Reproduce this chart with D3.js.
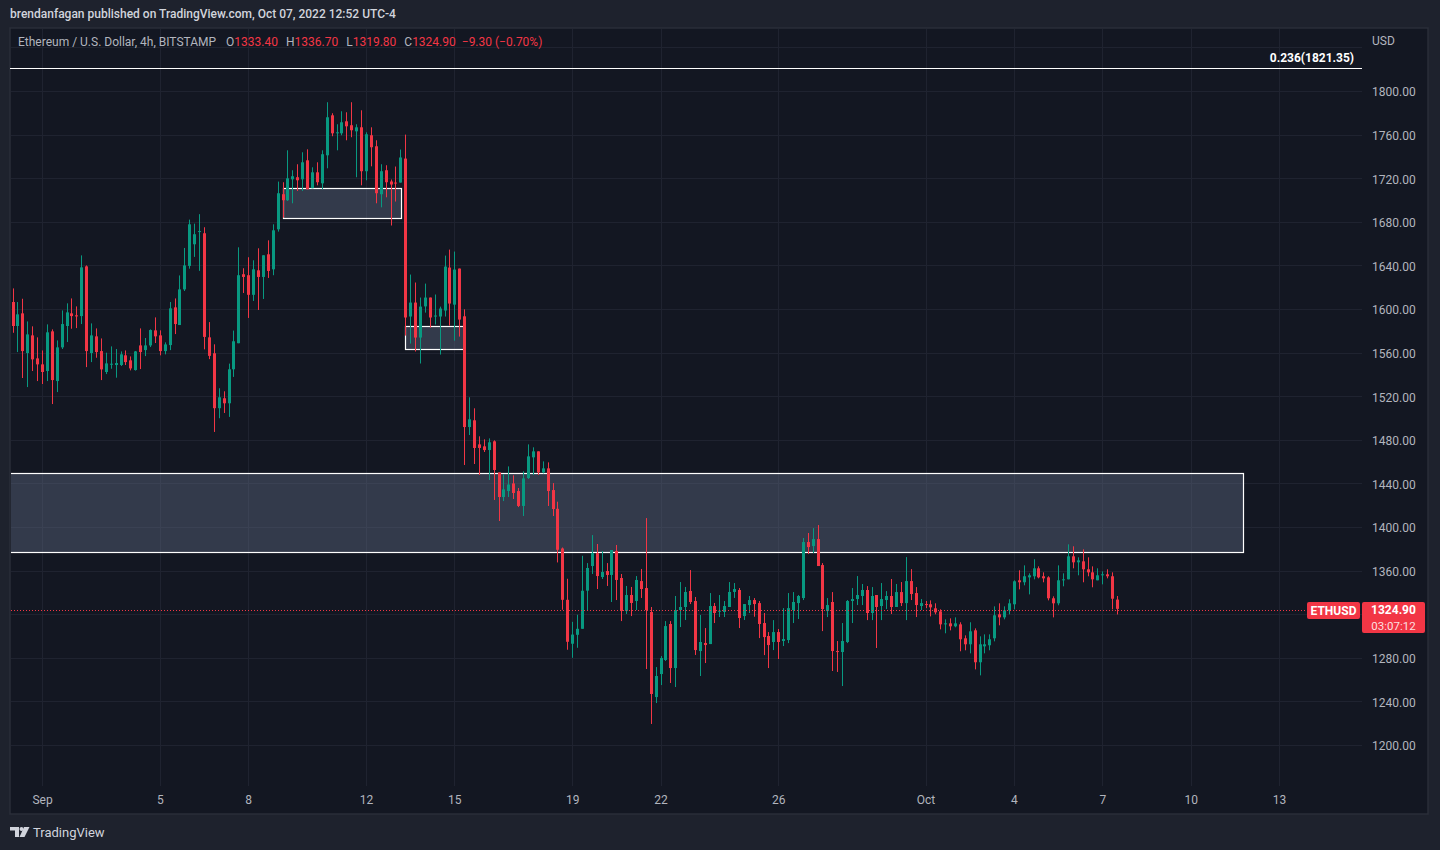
<!DOCTYPE html>
<html>
<head>
<meta charset="utf-8">
<script src="https://cdn.jsdelivr.net/npm/d3@7"></script>
<style>
  html, body { margin: 0; padding: 0; background: #1e222d; }
  svg { display: block; font-family: Roboto, "Noto Sans", sans-serif; }
</style>
</head>
<body>
<svg width="1440" height="850"></svg>
<script>
// ETH/USD 4h candles, Aug 31 00:00 -> Oct 7 12:00
var opens = [1606.4,1584.4,1596,1559.6,1575.8,1554.7,1549.2,1543.1,1579.5,1533.9,
  1564.8,1584.4,1596,1594.2,1593.5,1639.1,1559.6,1574.9,1561.4,1542.2,
  1548.9,1548.6,1548.6,1557.5,1552.9,1544,1566.6,1562.3,1566.6,1580.4,
  1575.8,1561.4,1566.9,1601.5,1585.3,1618,1639.5,1659.4,1671,1669.5,
  1574,1559.4,1509,1518.1,1513.5,1544.7,1568.6,1631.9,1631,1613,
  1635.5,1629.4,1650.2,1636.4,1673.1,1705.3,1699.8,1719,1720.9,1719,
  1736.4,1710.8,1725.4,1715.3,1741,1777.7,1761.2,1761.2,1772.2,1768.6,
  1763,1766.7,1726.4,1759.4,1749.3,1705.3,1727.3,1717,1716,1716,
  1738,1593.1,1605.9,1573.8,1602.4,1610.5,1593.1,1593.1,1598.6,1638,
  1604,1637.1,1593.3,1491.7,1497.9,1475.8,1474,1470.6,1478.6,1450.1,
  1427.5,1433,1440,1433,1419.3,1444.9,1463.9,1469.4,1450.1,1453.8,
  1433.9,1416.7,1380.3,1333.2,1292.9,1301.1,1306.6,1341.6,1364.2,1376.1,
  1354.1,1359.6,1356,1378,1353.2,1322.9,1337.6,1332.1,1350.4,1344,
  1322,1244,1265.1,1278,1311,1270.6,1323.8,1326.6,1341.3,1332.1,
  1286.2,1293.6,1292.6,1327.5,1322.3,1322,1326.6,1340.4,1342.2,1318.3,
  1328.4,1333,1330.2,1311.9,1300,1294.5,1303.6,1295.4,1296.3,1323.8,
  1330.2,1334.8,1386.2,1382.5,1388.9,1365.1,1322.9,1331.2,1286.2,1285.3,
  1294.5,1332.1,1333.9,1336.7,1342.2,1321.1,1337.6,1327.5,1333,1336.7,
  1326.6,1340.3,1330.2,1350.4,1339.4,1327.5,1329.3,1329.1,1325.4,1322.6,
  1310.7,1311.6,1308.9,1310.7,1297.9,1292.4,1305.2,1275.9,1290.5,1291.5,
  1297.9,1319.9,1317.1,1323.6,1329.1,1351.1,1349.3,1353.8,1354.8,1362.1,
  1354.8,1353.8,1334.6,1330,1351.1,1352,1373.1,1367.6,1368.5,1361.2,
  1358.4,1351.1,1355.7,1356.6,1354.8,1333.4];
var highs = [1618.9,1606.4,1609.4,1588.6,1584.1,1574,1562,1585.9,1581.3,1571.2,
  1598.7,1605.2,1609.7,1602.4,1649.2,1640,1586.8,1582.2,1573,1559.9,
  1565.7,1563.3,1561.1,1562,1556.5,1561.5,1582.2,1573.4,1581.3,1592.3,
  1580.4,1569.4,1606.4,1609.7,1630.8,1656,1682,1678.3,1687,1675,
  1588,1567.6,1527.3,1524.5,1549.9,1580.2,1656.6,1637.4,1647.5,1644.7,
  1655.7,1649.3,1663,1677.7,1716.9,1716.3,1745.6,1727.3,1732.8,1743.8,
  1746.5,1730,1734.6,1745.6,1789.7,1779.6,1769.5,1781.4,1780.5,1789.7,
  1769.5,1782.3,1762.1,1766.7,1754.8,1732.8,1731.9,1718.8,1730.7,1746.3,
  1760,1631.6,1624.3,1610.5,1623.3,1610.5,1613.3,1602.2,1649,1654.5,
  1652.7,1637.1,1599.7,1519,1508.9,1483.2,1480.4,1481.3,1479.5,1450.1,
  1448.3,1455.6,1447.4,1435.8,1451.1,1475.8,1473.1,1469.4,1460.2,1459.3,
  1440.3,1423.2,1381.2,1352.5,1313,1319.5,1373.6,1366.9,1392.6,1384.4,
  1378,1366.9,1378.9,1383.5,1356.9,1345.9,1345,1355,1361.5,1408.2,
  1326.6,1271.5,1281.6,1313.7,1313.7,1336.7,1349.5,1345,1360.5,1335.8,
  1319.3,1307.3,1339.4,1330.3,1337.6,1332.1,1349.5,1348.6,1344,1329.3,
  1336.7,1334.8,1332.1,1321.1,1303.6,1314.6,1306.4,1325.6,1339.4,1340.3,
  1337.6,1389.9,1394.5,1399,1401.8,1366.9,1334.8,1340.3,1295.4,1311.9,
  1333,1344,1355,1347.7,1345.8,1344.9,1337.6,1348.6,1341.2,1352.3,
  1347.7,1349.5,1372.4,1361.4,1344.9,1333.9,1332.1,1332.7,1330,1324.5,
  1315.3,1316.2,1317.1,1312.6,1300.6,1312.6,1307,1299.7,1301.5,1301.5,
  1327.2,1330,1327.2,1333.7,1351.1,1360.3,1364.8,1357.5,1370.4,1363.9,
  1358.4,1354.8,1336.4,1364.8,1357.5,1384.1,1382.3,1372.2,1379.5,1372.2,
  1363.9,1362.1,1359.3,1361.2,1358.4,1336.7];
var lows = [1578.2,1560.5,1536.7,1528.4,1543.1,1533.9,1531.2,1533.9,1512.8,1523.8,
  1563.3,1569.7,1581.9,1582.5,1586.2,1546.7,1551.3,1555.3,1534.8,1540.3,
  1545.2,1537,1547.7,1548.6,1543.7,1543.5,1544.9,1556.8,1565.1,1568.8,
  1557.5,1558.4,1562.3,1577,1585.3,1616.5,1637,1647.8,1635,1563,
  1554,1487.2,1499.8,1504.6,1501,1537.7,1568.6,1614.7,1591.8,1607.4,
  1599.1,1609.2,1628.5,1631,1671,1683.8,1699.1,1697,1708.3,1708.3,
  1709.8,1710.8,1713.5,1709.8,1729.1,1758.5,1745.6,1759.4,1754.8,1757.6,
  1720.9,1713.5,1718.1,1730.9,1697,1693.3,1702.5,1676.6,1698.6,1716,
  1575.6,1568.3,1561,1550,1596.7,1583,1585.8,1558.2,1593.1,1584.8,
  1571,1574.7,1456.9,1484.4,1457.8,1447.7,1468.8,1443.1,1424.8,1405.5,
  1423.8,1427.5,1425.7,1418.3,1410.1,1444,1447.7,1447.7,1449.2,1419.3,
  1410.1,1367.5,1324.1,1287.4,1280,1289.2,1306.6,1323.2,1356.9,1343.1,
  1352.3,1345.9,1331.2,1333,1313.7,1320.2,1318.3,1323.8,1334.9,1269.7,
  1219.3,1238.5,1255,1277.1,1256.9,1253.2,1308.2,1314.7,1329.3,1282.6,
  1263.3,1275.2,1292.6,1311.9,1317.4,1317.4,1326.6,1334.9,1307.3,1314.7,
  1321.1,1317.7,1298.1,1282.5,1270.6,1287.1,1278.9,1290.8,1293.5,1311.9,
  1315.6,1333,1375.2,1376.1,1364.2,1304.5,1317.4,1267.9,1267,1254.1,
  1293.5,1311.9,1328.4,1328.4,1314.6,1314.6,1289,1314.6,1324.7,1320.2,
  1326.6,1327.5,1314.6,1333,1317.4,1323.8,1325.6,1318,1319.9,1306.1,
  1302.5,1305.2,1308,1286,1286.9,1284.1,1269.4,1263.9,1284.1,1286.9,
  1295.1,1309.8,1315.3,1319.9,1324.5,1342.8,1346.5,1338.2,1352,1352.9,
  1349.3,1332.7,1317.1,1328.2,1345.6,1352,1362.1,1355.7,1349.3,1354.8,
  1344.7,1351.1,1347.4,1352.9,1324.5,1319.8];
var closes = [1584.4,1595.1,1561.4,1576.7,1553.8,1549.2,1542.2,1578.6,1534.8,1564.8,
  1586.2,1596.9,1593.5,1593.2,1638.2,1561.4,1575.8,1560.5,1544.6,1550.1,
  1549.8,1550.4,1558.4,1551.3,1545.5,1561.1,1560.5,1566.6,1580.7,1574.9,
  1561.4,1567.5,1600.6,1586.2,1618,1640,1677.7,1668.6,1671.5,1574.4,
  1557,1509,1519,1513.5,1544.7,1570.4,1631,1629.4,1613,1636.4,
  1629.4,1649.3,1634.9,1672.2,1706.2,1699.8,1719.9,1721.8,1718.1,1734.6,
  1709.8,1725.4,1716.3,1742,1775.9,1761.2,1762.1,1771.3,1767.6,1764,
  1766.7,1726.4,1760.3,1748.4,1706.2,1726.4,1716.3,1714.2,1715.4,1739,
  1592.2,1605.9,1573.8,1602.2,1610.5,1592.2,1594,1600.4,1638.9,1605,
  1636.2,1590.3,1491.7,1498.8,1472.5,1472.5,1470.6,1477.7,1452.3,1427.5,
  1434.5,1439,1431.2,1419.3,1444.6,1464.8,1469.4,1450.1,1453.8,1433,
  1416.5,1379.1,1333.2,1294.7,1301.3,1306.6,1341.5,1362.4,1376.1,1355,
  1358.7,1356,1378.9,1351.4,1322.9,1337.6,1330.3,1351.4,1343.1,1323.8,
  1246.8,1263.3,1279.8,1309.1,1270.6,1323.8,1326.6,1340.4,1331.2,1287.1,
  1294.5,1291.7,1327.5,1321.1,1323.2,1327.5,1340.4,1343.1,1316.5,1329.3,
  1333,1329.3,1311,1299,1291.7,1303.6,1294.5,1297.2,1325.6,1331.2,
  1336.7,1386.2,1381.6,1388.9,1364.2,1324.7,1328.4,1286.2,1285.3,1295.4,
  1332.1,1333.9,1337.6,1342.2,1321.1,1336.7,1326.6,1333.9,1336.7,1326.6,
  1340.3,1330.2,1350.4,1338.5,1328.4,1330.2,1328.4,1326.3,1321.7,1310.7,
  1311.6,1308.9,1311.6,1297,1292.4,1304.3,1275.9,1292.4,1292.4,1297,
  1319,1317.1,1323.6,1330,1350.2,1349.3,1354.8,1355.7,1362.1,1353.8,
  1352.9,1334.6,1330,1351.1,1352,1373.1,1367.6,1369.4,1361.2,1358.4,
  1352,1355.7,1356.6,1354.8,1334.2,1324.9];

var priceTicks = d3.range(1200, 1801, 40);
var dateTicks = [[8,1],[8,5],[8,8],[8,12],[8,15],[8,19],[8,22],[8,26],[9,1],[9,4],[9,7],[9,10],[9,13]];
var monthNames = ["Jan","Feb","Mar","Apr","May","Jun","Jul","Aug","Sep","Oct","Nov","Dec"];

// drawings: rectangles [t0, t1, priceTop, priceBottom]
var zones = [
  [Date.UTC(2022,8,9,4), Date.UTC(2022,8,13,4), 1711.2, 1683.7],
  [Date.UTC(2022,8,13,8), Date.UTC(2022,8,15,8), 1584.6, 1563.2],
  [Date.UTC(2022,7,30,0), Date.UTC(2022,9,11,19), 1449.4, 1377.0]
];
var fibLevel = 1821.35;
var lastPrice = 1324.90;

var GREEN = "#089981", RED = "#f23645";
var svg = d3.select("svg");

var paneL = 10, paneT = 28, paneR = 1428, paneB = 814;
var plotR = 1362, plotB = 786;

var x = d3.scaleUtc().domain([Date.UTC(2022,8,1), Date.UTC(2022,9,13)]).range([42, 1279]);
var y = d3.scaleLinear().domain([1200, 1800]).range([745, 91]);

var start = Date.UTC(2022,7,31);
var candles = opens.map(function(o, i) {
  return { t: new Date(start + i * 4 * 3600e3), o: o, h: highs[i], l: lows[i], c: closes[i] };
});

// background
svg.append("rect").attr("width", 1440).attr("height", 850).attr("fill", "#1e222d");
svg.append("rect").attr("x", paneL).attr("y", paneT)
  .attr("width", paneR - paneL).attr("height", paneB - paneT)
  .attr("fill", "#131722").attr("stroke", "#2a2e39").attr("stroke-width", 1.5);

svg.append("clipPath").attr("id", "plot").append("rect")
  .attr("x", paneL + 1).attr("y", paneT + 1).attr("width", plotR - paneL - 1).attr("height", plotB - paneT - 1);

// grid
var dates = dateTicks.map(function(d) { return new Date(Date.UTC(2022, d[0], d[1])); });
var grid = svg.append("g").attr("stroke", "#1f2330").attr("stroke-width", 1);
grid.selectAll("line.v").data(dates).enter().append("line")
  .attr("x1", function(d) { return Math.round(x(d)) + 0.5; })
  .attr("x2", function(d) { return Math.round(x(d)) + 0.5; })
  .attr("y1", paneT + 1).attr("y2", plotB);
grid.selectAll("line.h").data(priceTicks.concat([1840])).enter().append("line")
  .attr("x1", paneL + 1).attr("x2", plotR)
  .attr("y1", function(d) { return Math.round(y(d)) + 0.5; })
  .attr("y2", function(d) { return Math.round(y(d)) + 0.5; });

var plot = svg.append("g").attr("clip-path", "url(#plot)");

// zones
plot.selectAll("rect.zone").data(zones).enter().append("rect")
  .attr("x", function(d) { return Math.round(x(d[0])) + 0.5; })
  .attr("y", function(d) { return Math.round(y(d[2])) + 0.5; })
  .attr("width", function(d) { return Math.round(x(d[1]) - x(d[0])); })
  .attr("height", function(d) { return Math.round(y(d[3]) - y(d[2])); })
  .attr("fill", "rgba(92,101,126,0.45)")
  .attr("stroke", "#ffffff").attr("stroke-width", 1.2);

// candles
var cg = plot.append("g");
cg.selectAll("rect.wick").data(candles).enter().append("rect")
  .attr("x", function(d) { return Math.round(x(d.t)); })
  .attr("width", 1)
  .attr("y", function(d) { return y(d.h); })
  .attr("height", function(d) { return Math.max(1, y(d.l) - y(d.h)); })
  .attr("fill", function(d) { return d.c >= d.o ? GREEN : RED; });
cg.selectAll("rect.body").data(candles).enter().append("rect")
  .attr("x", function(d) { return Math.round(x(d.t)) - 1; })
  .attr("width", 3)
  .attr("y", function(d) { return y(Math.max(d.o, d.c)); })
  .attr("height", function(d) { return Math.max(1, Math.abs(y(d.o) - y(d.c))); })
  .attr("fill", function(d) { return d.c >= d.o ? GREEN : RED; });

// fib level
var fy = Math.round(y(fibLevel)) + 0.5;
svg.append("line").attr("x1", paneL).attr("x2", plotR).attr("y1", fy).attr("y2", fy)
  .attr("stroke", "#ffffff").attr("stroke-width", 1.2);
svg.append("text").attr("x", 1354).attr("y", fy - 7).attr("text-anchor", "end")
  .attr("fill", "#ffffff").attr("font-size", 12).attr("font-weight", "bold")
  .text("0.236(" + fibLevel.toFixed(2) + ")");

// last price line
var ly = Math.round(y(lastPrice)) + 1;
svg.append("line").attr("x1", paneL + 1).attr("x2", 1307).attr("y1", ly).attr("y2", ly)
  .attr("stroke", RED).attr("stroke-width", 1).attr("stroke-dasharray", "1,2")
  .attr("shape-rendering", "crispEdges");

// price axis (labels hidden behind the last-price tag are dropped, as TradingView does)
var labelTicks = priceTicks.filter(function(p) { return Math.abs(y(p) - y(lastPrice)) > 16; });
var yAxis = d3.axisRight(y).tickValues(labelTicks).tickSize(0).tickPadding(0)
  .tickFormat(d3.format(".2f"));
var ya = svg.append("g").attr("transform", "translate(1372,1)").call(yAxis);
ya.select(".domain").remove();
ya.selectAll("text").attr("fill", "#b2b5be").attr("font-size", 12)
  .attr("font-family", "Roboto, 'Noto Sans', sans-serif");
svg.append("text").attr("x", 1372).attr("y", 45).attr("fill", "#b2b5be")
  .attr("font-size", 12).text("USD");

// time axis
var xAxis = d3.axisBottom(x).tickValues(dates).tickSize(0).tickPadding(0)
  .tickFormat(function(d) { return d.getUTCDate() === 1 ? monthNames[d.getUTCMonth()] : d.getUTCDate(); });
var xa = svg.append("g").attr("transform", "translate(0,795)").call(xAxis);
xa.select(".domain").remove();
xa.selectAll("text").attr("fill", "#b2b5be").attr("font-size", 12)
  .attr("font-family", "Roboto, 'Noto Sans', sans-serif");

// last price labels
svg.append("rect").attr("x", 1307).attr("y", 602).attr("width", 53).attr("height", 17)
  .attr("rx", 2).attr("fill", RED);
svg.append("text").attr("x", 1333.5).attr("y", 615).attr("text-anchor", "middle")
  .attr("fill", "#ffffff").attr("font-size", 12).attr("font-weight", "bold").text("ETHUSD");
svg.append("rect").attr("x", 1362).attr("y", 602).attr("width", 63).attr("height", 31)
  .attr("rx", 2).attr("fill", RED);
svg.append("text").attr("x", 1393.5).attr("y", 614).attr("text-anchor", "middle")
  .attr("fill", "#ffffff").attr("font-size", 12).attr("font-weight", "bold").text(lastPrice.toFixed(2));
svg.append("text").attr("x", 1393.5).attr("y", 629.5).attr("text-anchor", "middle")
  .attr("fill", "#ffffff").attr("fill-opacity", 0.85).attr("font-size", 11.5).text("03:07:12");

// header
svg.append("text").attr("x", 10).attr("y", 18).attr("fill", "#d1d4dc").attr("font-size", 12)
  .attr("font-weight", 500)
  .text("brendanfagan published on TradingView.com, Oct 07, 2022 12:52 UTC-4");

var last = candles[candles.length - 1];
var legend = svg.append("text").attr("x", 18).attr("y", 46).attr("font-size", 12).attr("fill", "#b2b5be");
legend.append("tspan").text("Ethereum / U.S. Dollar, 4h, BITSTAMP");
[["O", last.o], ["H", last.h], ["L", last.l], ["C", last.c]].forEach(function(p, i) {
  legend.append("tspan").attr("dx", i === 0 ? 10 : 8).attr("fill", "#b2b5be").text(p[0]);
  legend.append("tspan").attr("fill", RED).text(p[1].toFixed(2));
});
var chg = last.c - closes[closes.length - 2];
legend.append("tspan").attr("dx", 6).attr("fill", RED)
  .text("\u2212" + Math.abs(chg).toFixed(2) + " (\u2212" + Math.abs(chg / closes[closes.length - 2] * 100).toFixed(2) + "%)");

// TradingView logo
var logo = svg.append("g").attr("fill", "#d1d4dc");
logo.append("path").attr("d", "M10,827h9v10h-4v-6.5h-5z");
logo.append("circle").attr("cx", 21.5).attr("cy", 829).attr("r", 2);
logo.append("path").attr("d", "M24,827h5.5l-5,10h-5z");
svg.append("text").attr("x", 33).attr("y", 837).attr("fill", "#d1d4dc").attr("font-size", 13)
  .text("TradingView");
</script>
</body>
</html>
